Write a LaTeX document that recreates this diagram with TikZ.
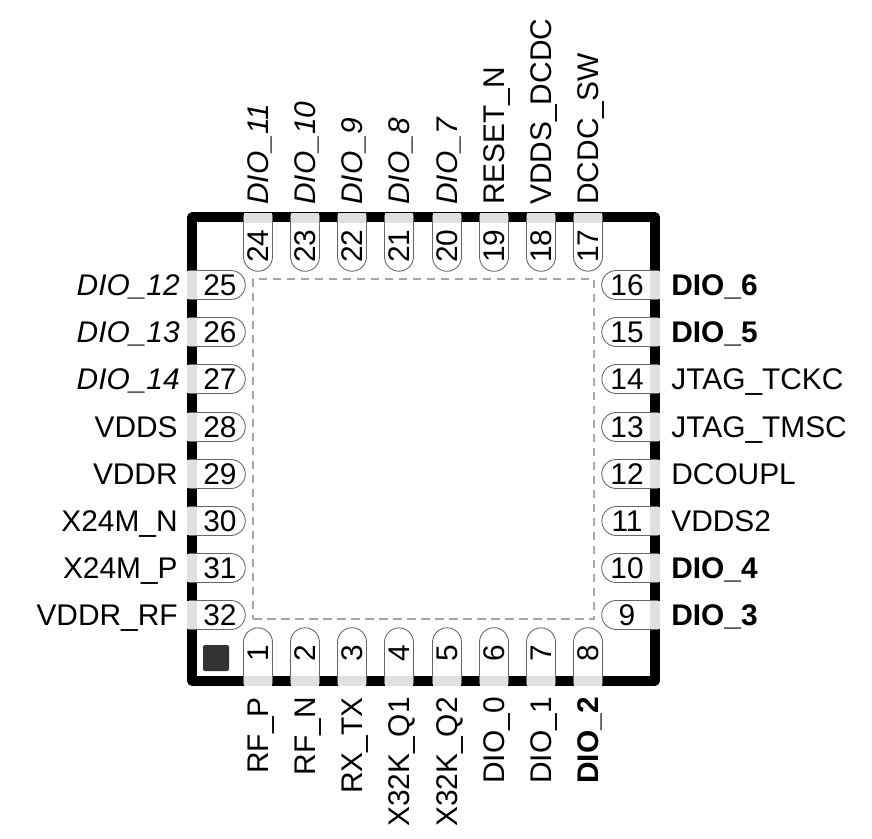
\documentclass[tikz,border=0pt]{standalone}
\usepackage{fontspec}
\setmainfont{Liberation Sans}
\usetikzlibrary{shapes.misc}

\begin{document}
\begin{tikzpicture}
		
		\useasboundingbox (0,0) rectangle (17.44,16.76);
		\tikzset{chipframe/.style = {shape=rectangle,draw=black,line width=0.2cm,line join=round,minimum width=9.26cm,minimum height=9.26cm}}
		\tikzset{epadbox/.style = {shape=rectangle,draw=black!35,line width=0.04cm,dash pattern=on 0.17cm off 0.11cm,minimum width=6.82cm,minimum height=6.8cm}}
		\tikzset{dotbox/.style = {shape=rectangle,rounded corners=0.04cm,fill=black!80,minimum size=0.52cm,inner sep=0}}
		\tikzset{tabbox/.style = {shape=rectangle,fill=black!12,inner sep=0}}
		\tikzset{tabh/.style = {tabbox,minimum width=0.2cm,minimum height=0.56cm}}
		\tikzset{tabv/.style = {tabbox,minimum width=0.56cm,minimum height=0.2cm}}
		\tikzset{pinbox/.style = {shape=rounded rectangle,fill=white,draw=black!60,line width=0.5pt,minimum width=1.12cm,minimum height=0.58cm,inner sep=0,font=\fontsize{17}{17}\selectfont}}
		\tikzset{pinfwd/.style = {pinbox,execute at begin node=\hspace*{0.2cm}}}
		\tikzset{pinback/.style = {pinbox,execute at end node=\hspace*{0.2cm}}}
		\tikzset{pinleft/.style = {pinfwd,rounded rectangle west arc=none}}
		\tikzset{pinright/.style = {pinback,rounded rectangle east arc=none}}
		\tikzset{pintop/.style = {pinback,rotate=90,rounded rectangle east arc=none}}
		\tikzset{pinbottom/.style = {pinfwd,rotate=90,rounded rectangle west arc=none}}
		\tikzset{signal/.style = {inner sep=0,font=\fontsize{17}{17}\selectfont}}
		\tikzset{sigleft/.style = {signal,anchor=base east}}
		\tikzset{sigright/.style = {signal,anchor=base west}}
		\tikzset{sigtop/.style = {signal,rotate=90,anchor=base west}}
		\tikzset{sigbottom/.style = {signal,rotate=90,anchor=base east}}
		% package
		\node[chipframe] (chip) at (8.47,7.78) {};
		\node[epadbox] (epad) at (8.47,7.78) {};
		\node[dotbox] (dot1) at (4.32,3.60) {};
		% pins
		\node[pinbottom] (1) at (5.16,3.60) {1};
		\node[pinbottom] (2) at (6.10,3.60) {2};
		\node[pinbottom] (3) at (7.04,3.60) {3};
		\node[pinbottom] (4) at (7.98,3.60) {4};
		\node[pinbottom] (5) at (8.94,3.60) {5};
		\node[pinbottom] (6) at (9.88,3.60) {6};
		\node[pinbottom] (7) at (10.82,3.60) {7};
		\node[pinbottom] (8) at (11.76,3.60) {8};
		\node[pinright] (9) at (12.64,4.46) {9};
		\node[pinright] (10) at (12.64,5.40) {10};
		\node[pinright] (11) at (12.64,6.34) {11};
		\node[pinright] (12) at (12.64,7.28) {12};
		\node[pinright] (13) at (12.64,8.22) {13};
		\node[pinright] (14) at (12.64,9.18) {14};
		\node[pinright] (15) at (12.64,10.12) {15};
		\node[pinright] (16) at (12.64,11.06) {16};
		\node[pintop] (17) at (11.76,11.94) {17};
		\node[pintop] (18) at (10.82,11.94) {18};
		\node[pintop] (19) at (9.88,11.94) {19};
		\node[pintop] (20) at (8.94,11.94) {20};
		\node[pintop] (21) at (7.98,11.94) {21};
		\node[pintop] (22) at (7.04,11.94) {22};
		\node[pintop] (23) at (6.10,11.94) {23};
		\node[pintop] (24) at (5.16,11.94) {24};
		\node[pinleft] (25) at (4.30,11.06) {25};
		\node[pinleft] (26) at (4.30,10.12) {26};
		\node[pinleft] (27) at (4.30,9.18) {27};
		\node[pinleft] (28) at (4.30,8.22) {28};
		\node[pinleft] (29) at (4.30,7.28) {29};
		\node[pinleft] (30) at (4.30,6.34) {30};
		\node[pinleft] (31) at (4.30,5.40) {31};
		\node[pinleft] (32) at (4.30,4.46) {32};
		% tabs
		\node[tabv] (t1) at (5.16,3.14) {};
		\node[tabv] (t2) at (6.10,3.14) {};
		\node[tabv] (t3) at (7.04,3.14) {};
		\node[tabv] (t4) at (7.98,3.14) {};
		\node[tabv] (t5) at (8.94,3.14) {};
		\node[tabv] (t6) at (9.88,3.14) {};
		\node[tabv] (t7) at (10.82,3.14) {};
		\node[tabv] (t8) at (11.76,3.14) {};
		\node[tabh] (t9) at (13.10,4.46) {};
		\node[tabh] (t10) at (13.10,5.40) {};
		\node[tabh] (t11) at (13.10,6.34) {};
		\node[tabh] (t12) at (13.10,7.28) {};
		\node[tabh] (t13) at (13.10,8.22) {};
		\node[tabh] (t14) at (13.10,9.18) {};
		\node[tabh] (t15) at (13.10,10.12) {};
		\node[tabh] (t16) at (13.10,11.06) {};
		\node[tabv] (t17) at (11.76,12.40) {};
		\node[tabv] (t18) at (10.82,12.40) {};
		\node[tabv] (t19) at (9.88,12.40) {};
		\node[tabv] (t20) at (8.94,12.40) {};
		\node[tabv] (t21) at (7.98,12.40) {};
		\node[tabv] (t22) at (7.04,12.40) {};
		\node[tabv] (t23) at (6.10,12.40) {};
		\node[tabv] (t24) at (5.16,12.40) {};
		\node[tabh] (t25) at (3.84,11.06) {};
		\node[tabh] (t26) at (3.84,10.12) {};
		\node[tabh] (t27) at (3.84,9.18) {};
		\node[tabh] (t28) at (3.84,8.22) {};
		\node[tabh] (t29) at (3.84,7.28) {};
		\node[tabh] (t30) at (3.84,6.34) {};
		\node[tabh] (t31) at (3.84,5.40) {};
		\node[tabh] (t32) at (3.84,4.46) {};
		% signal names
		\node[sigbottom] (rfp) at (5.37,2.82) {RF\_P};
		\node[sigbottom] (rfn) at (6.31,2.82) {RF\_N};
		\node[sigbottom] (rxtx) at (7.25,2.82) {RX\_TX};
		\node[sigbottom] (xq1) at (8.19,2.82) {X32K\_Q1};
		\node[sigbottom] (xq2) at (9.15,2.82) {X32K\_Q2};
		\node[sigbottom] (dio0) at (10.09,2.82) {DIO\_0};
		\node[sigbottom] (dio1) at (11.03,2.82) {DIO\_1};
		\node[sigbottom] (dio2) at (11.97,2.82) {\textbf{DIO\_2}};
		\node[sigright] (dio3) at (13.42,4.25) {\textbf{DIO\_3}};
		\node[sigright] (dio4) at (13.42,5.19) {\textbf{DIO\_4}};
		\node[sigright] (vdds2) at (13.42,6.13) {VDDS2};
		\node[sigright] (dcoupl) at (13.42,7.07) {DCOUPL};
		\node[sigright] (tmsc) at (13.42,8.01) {JTAG\_TMSC};
		\node[sigright] (tckc) at (13.42,8.97) {JTAG\_TCKC};
		\node[sigright] (dio5) at (13.42,9.91) {\textbf{DIO\_5}};
		\node[sigright] (dio6) at (13.42,10.85) {\textbf{DIO\_6}};
		\node[sigtop] (dcdcsw) at (11.97,12.66) {DCDC\_SW};
		\node[sigtop] (vddsdcdc) at (11.03,12.66) {VDDS\_DCDC};
		\node[sigtop] (resetn) at (10.09,12.66) {RESET\_N};
		\node[sigtop] (dio7) at (9.15,12.66) {\textit{DIO\_7}};
		\node[sigtop] (dio8) at (8.19,12.66) {\textit{DIO\_8}};
		\node[sigtop] (dio9) at (7.25,12.66) {\textit{DIO\_9}};
		\node[sigtop] (dio10) at (6.31,12.66) {\textit{DIO\_10}};
		\node[sigtop] (dio11) at (5.37,12.66) {\textit{DIO\_11}};
		\node[sigleft] (dio12) at (3.60,10.85) {\textit{DIO\_12}};
		\node[sigleft] (dio13) at (3.60,9.91) {\textit{DIO\_13}};
		\node[sigleft] (dio14) at (3.60,8.97) {\textit{DIO\_14}};
		\node[sigleft] (vdds) at (3.56,8.01) {VDDS};
		\node[sigleft] (vddr) at (3.56,7.07) {VDDR};
		\node[sigleft] (xn) at (3.56,6.13) {X24M\_N};
		\node[sigleft] (xp) at (3.56,5.19) {X24M\_P};
		\node[sigleft] (vddrrf) at (3.56,4.25) {VDDR\_RF};
		\end{tikzpicture}
\end{document}
